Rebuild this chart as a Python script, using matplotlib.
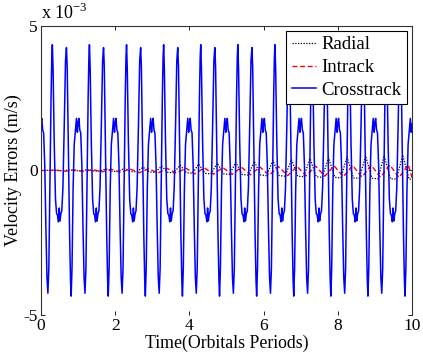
#!/usr/bin/env python3
"""
Velocity errors (radial / intrack / crosstrack) over 10 orbital periods.
MATLAB-style look.
"""

import numpy as np
import matplotlib
matplotlib.use('Agg')
import matplotlib.pyplot as plt
from matplotlib.ticker import FuncFormatter

plt.rcParams['font.family'] = ['Liberation Serif', 'DejaVu Serif']
plt.rcParams['mathtext.fontset'] = 'custom'
plt.rcParams['mathtext.rm'] = 'Liberation Serif'
plt.rcParams['axes.unicode_minus'] = False

# ===== Data (values in 1e-3 m/s, time in orbital periods) =====
# Crosstrack: one orbit of the signal (it repeats every orbit)
cross_phase = [0.00, 0.02, 0.045, 0.07, 0.10, 0.13, 0.16, 0.185, 0.21, 0.24,
               0.27, 0.29, 0.305, 0.325, 0.355, 0.39, 0.42, 0.445, 0.47, 0.49,
               0.51, 0.535, 0.56, 0.59, 0.625, 0.66, 0.685, 0.705, 0.735, 0.77,
               0.795, 0.812, 0.835, 0.865, 0.895, 0.925, 0.955, 0.98]
cross_value = [1.65, 1.80, 1.40, 1.30, 0.20, -1.90, -3.70, -4.25, -3.40, -0.50,
               2.50, 3.90, 4.35, 3.50, 1.00, -1.00, -1.50, -1.55, -1.78, -1.30,
               -1.75, -1.50, -1.40, -0.60, 1.50, 3.80, 4.25, 3.60, 1.00, -2.20,
               -3.80, -4.35, -3.40, -0.60, 0.90, 1.35, 1.80, 1.32]
orbit_starts = [0, 1, 2, 3, 4, 5, 6, 7, 8, 9]
cross_end = 1.60

# Radial: twice per orbit, sharp peaks, growing amplitude
radial_peak_t = [0.25, 0.75, 1.25, 1.75, 2.25, 2.75, 3.25, 3.75, 4.25, 4.75,
                 5.25, 5.75, 6.25, 6.75, 7.25, 7.75, 8.25, 8.75, 9.25, 9.75]
radial_peak = [0.01, 0.02, 0.03, 0.05, 0.08, 0.11, 0.15, 0.18, 0.22, 0.25,
               0.28, 0.31, 0.34, 0.38, 0.41, 0.44, 0.47, 0.50, 0.51, 0.53]
radial_low = [0.00, -0.01, -0.02, -0.03, -0.04, -0.05, -0.07, -0.08, -0.10, -0.12,
              -0.14, -0.16, -0.18, -0.20, -0.22, -0.24, -0.26, -0.27, -0.29, -0.30]

# Intrack: small oscillation, twice per orbit
intrack_peak_t = [0.40, 0.90, 1.40, 1.90, 2.40, 2.90, 3.40, 3.90, 4.40, 4.90,
                  5.40, 5.90, 6.40, 6.90, 7.40, 7.90, 8.40, 8.90, 9.40, 9.90]
intrack_peak = [0.01, 0.02, 0.03, 0.04, 0.05, 0.06, 0.07, 0.08, 0.09, 0.10,
                0.11, 0.12, 0.13, 0.14, 0.15, 0.16, 0.17, 0.18, 0.19, 0.20]
intrack_low = [-0.01, -0.03, -0.04, -0.05, -0.07, -0.08, -0.09, -0.10, -0.12, -0.13,
               -0.14, -0.15, -0.17, -0.18, -0.19, -0.20, -0.22, -0.23, -0.24, -0.25]

# ===== Build polylines =====
t_cross = [s + p for s in orbit_starts for p in cross_phase] + [10.0]
v_cross = [v for s in orbit_starts for v in cross_value] + [cross_end]

t_rad, v_rad = [0.0], [0.0]
for tp, vp, vl in zip(radial_peak_t, radial_peak, radial_low):
    t_rad += [tp - 0.17, tp, tp + 0.17]
    v_rad += [vl, vp, vl]
t_rad.append(10.0)
v_rad.append(radial_low[-1])

t_in, v_in = [0.0], [0.0]
for tp, vp, vl in zip(intrack_peak_t, intrack_peak, intrack_low):
    t_in += [tp - 0.25, tp]
    v_in += [vl, vp]
t_in.append(10.0)
v_in.append(intrack_low[-1])

scale = 1e-3
t_cross = np.array(t_cross)
v_cross = np.array(v_cross) * scale
v_rad = np.array(v_rad) * scale
v_in = np.array(v_in) * scale

# ===== Plot =====
fig = plt.figure(figsize=(4.23, 3.55), dpi=100)
ax = fig.add_axes([0.097, 0.113, 0.877, 0.814])

ax.plot(t_rad, v_rad, color='black', linestyle=(0, (1, 1.2)), linewidth=0.9,
        label='Radial')
ax.plot(t_in, v_in, color='red', linestyle=(0, (3.5, 2)), linewidth=1.0,
        label='Intrack')
ax.plot(t_cross, v_cross, color='#0000ff', linewidth=1.1, label='Crosstrack')

ax.set_xlim(0, 10)
ax.set_ylim(-5e-3, 5e-3)
ax.set_xticks([0, 2, 4, 6, 8, 10])
ax.set_yticks([-5e-3, 0, 5e-3])
ax.yaxis.set_major_formatter(FuncFormatter(lambda v, pos: '%d' % round(v / scale)))

ax.tick_params(direction='in', length=3, width=0.6, labelsize=12.5,
               top=True, right=True, pad=2.5)
for side in ['top', 'right', 'left']:
    ax.spines[side].set_linewidth(0.8)
    ax.spines[side].set_color('#333333')
ax.spines['bottom'].set_visible(False)

ax.set_xlabel('Time(Orbitals Periods)', fontsize=12.8, labelpad=0)
ax.set_ylabel('Velocity Errors (m/s)', fontsize=13, labelpad=1)

ax.text(0.0, 1.01, r'x 10$^{\mathrm{-3}}$', transform=ax.transAxes,
        fontsize=13, ha='left', va='bottom')

leg = ax.legend(loc='upper right', fontsize=13.5, handlelength=1.3,
                handletextpad=0.3, borderpad=0.3, labelspacing=0.3,
                borderaxespad=0.25, fancybox=False, framealpha=1,
                edgecolor='black')
leg.get_frame().set_linewidth(0.8)

plt.savefig('out.png', dpi=100)
plt.close()
